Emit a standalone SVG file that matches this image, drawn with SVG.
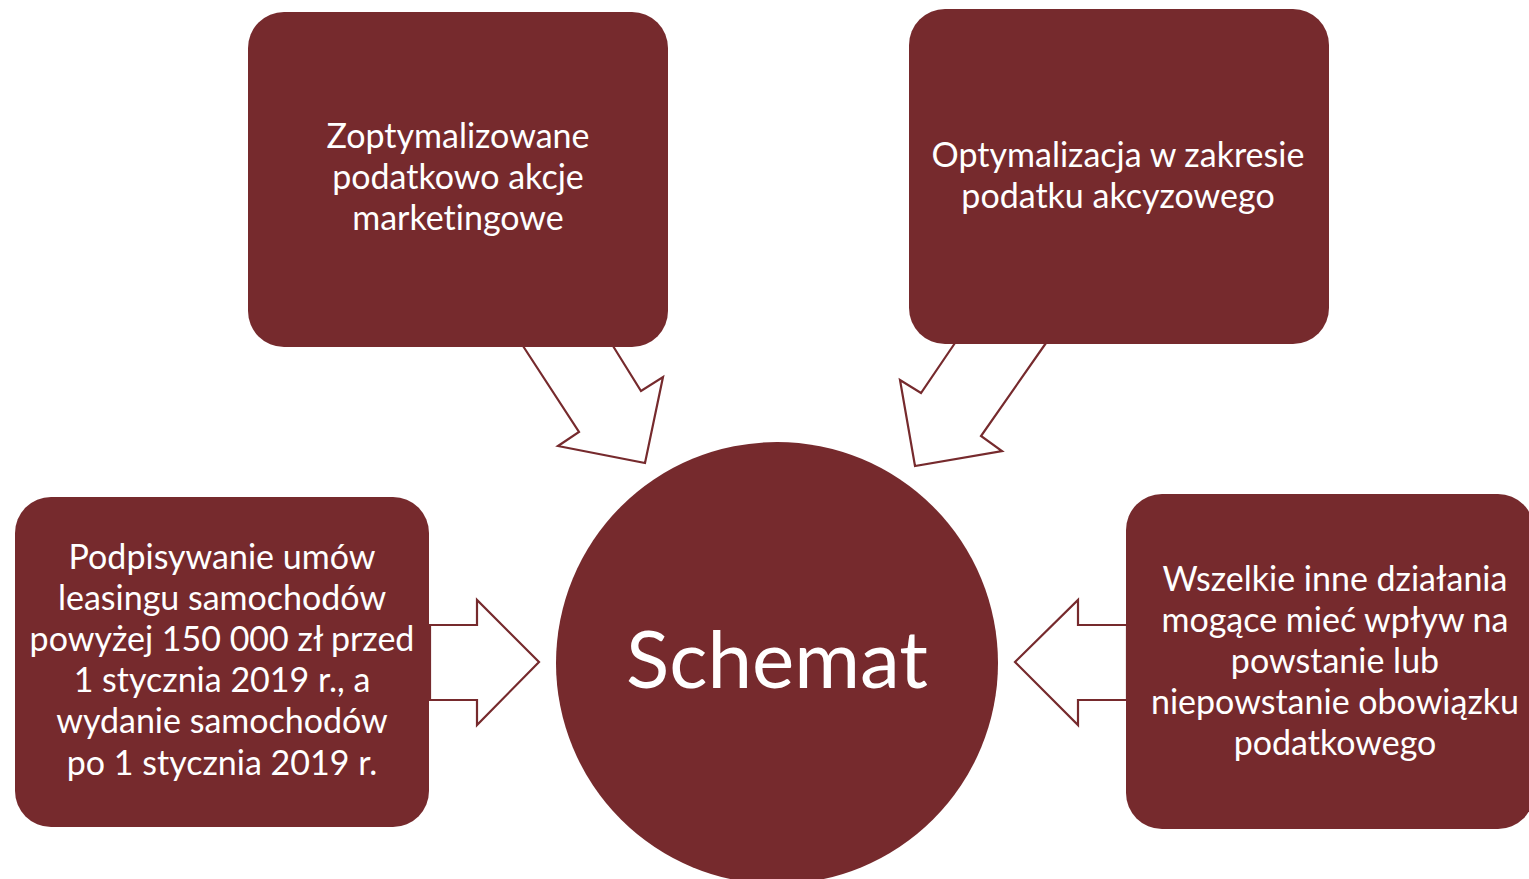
<svg xmlns="http://www.w3.org/2000/svg" width="1529" height="879" viewBox="0 0 1529 879">
<style>
.box{fill:#762A2D;}
.arr{fill:#FFFFFF;stroke:#762A2D;stroke-width:2.2;stroke-linejoin:miter;}
.t{font-family:Lato,"Liberation Sans",sans-serif;font-size:34px;fill:#FFFFFF;text-anchor:middle;font-variant-ligatures:none;}
.big{font-family:Lato,"Liberation Sans",sans-serif;font-size:80px;fill:#FFFFFF;text-anchor:middle;}
</style>
<rect width="1529" height="879" fill="#FFFFFF"/>
<g id="connectors">
<polygon class="arr" points="523,346 579,432 558,446 645,463 663,377 641,391 613,346"/>
<polygon class="arr" points="955,343 921,393 900,380 915,466 1002,451 981,436 1046,343"/>
<polygon class="arr" points="430,625 477,625 477,600 539,662 477,725 477,700 430,700"/>
<polygon class="arr" points="1127,625 1078,625 1078,600 1015,662 1078,725 1078,700 1127,700"/>
</g>
<g id="node-center">
<circle class="box" cx="777" cy="663" r="221"/>
<text class="big" x="777" y="688">Schemat</text>
</g>
<g id="node-top-left">
<rect class="box" x="248" y="12" width="420" height="335" rx="36"/>
<text class="t" x="458" y="148">Zoptymalizowane</text>
<text class="t" x="458" y="189">podatkowo akcje</text>
<text class="t" x="458" y="230">marketingowe</text>
</g>
<g id="node-top-right">
<rect class="box" x="909" y="9" width="420" height="335" rx="36"/>
<text class="t" x="1118" y="167">Optymalizacja w zakresie</text>
<text class="t" x="1118" y="208">podatku akcyzowego</text>
</g>
<g id="node-left">
<rect class="box" x="15" y="497" width="414" height="330" rx="36"/>
<text class="t" x="222" y="569">Podpisywanie umów</text>
<text class="t" x="222" y="610">leasingu samochodów</text>
<text class="t" x="222" y="651">powyżej 150 000 zł przed</text>
<text class="t" x="222" y="692">1 stycznia 2019 r., a</text>
<text class="t" x="222" y="733">wydanie samochodów</text>
<text class="t" x="222" y="775">po 1 stycznia 2019 r.</text>
</g>
<g id="node-right">
<rect class="box" x="1126" y="494" width="408" height="335" rx="36"/>
<text class="t" x="1335" y="591">Wszelkie inne działania</text>
<text class="t" x="1335" y="632">mogące mieć wpływ na</text>
<text class="t" x="1335" y="673">powstanie lub</text>
<text class="t" x="1335" y="714">niepowstanie obowiązku</text>
<text class="t" x="1335" y="755">podatkowego</text>
</g>
</svg>
